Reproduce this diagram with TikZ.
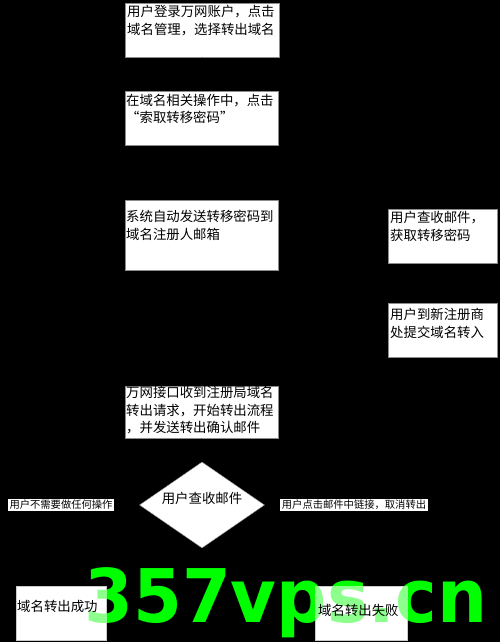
\documentclass[tikz,border=0pt]{standalone}
\usepackage{fontspec}
\usetikzlibrary{shapes.geometric,arrows.meta}
\newfontfamily\cjk{Noto Sans CJK SC}
\newfontfamily\wmfont{DejaVu Sans Bold}
\definecolor{wm}{RGB}{0,255,0}
\tikzset{
  x=1pt,y=-1pt,
  box/.style={draw=black!45,line width=0.5pt,fill=white,anchor=north west,inner sep=0pt},
  txt/.style={anchor=north west,inner sep=0pt,align=left,font=\cjk\fontsize{13.4}{17.5}\selectfont,text=black},
  lab/.style={fill=white,inner sep=1.5pt,font=\cjk\fontsize{10.3}{12}\selectfont,text=black},
  flow/.style={draw=black,line width=0.6pt,-{Stealth[length=5pt]}},
}
\begin{document}
\begin{tikzpicture}
\useasboundingbox (0,0) rectangle (500,642);
\fill[black] (0,0) rectangle (500,642);
% boxes
\node[box,minimum width=154pt,minimum height=54pt] (b1) at (125,3) {};
\node[box,minimum width=153pt,minimum height=54pt] (b2) at (125,91) {};
\node[box,minimum width=153pt,minimum height=70pt] (b3) at (125,200) {};
\node[box,minimum width=109pt,minimum height=54pt] (b4) at (388,209) {};
\node[box,minimum width=109pt,minimum height=54pt] (b5) at (388,303) {};
\node[box,minimum width=153pt,minimum height=52pt] (b6) at (125,386) {};
\node[diamond,draw=black!45,fill=white,minimum width=125pt,minimum height=86pt,inner sep=0pt] (d) at (202,505) {};
\node[box,minimum width=90pt,minimum height=54pt] (ok) at (16,586) {};
\node[box,minimum width=92pt,minimum height=54pt] (ko) at (315,586) {};
% connectors (black on black)
\draw[flow] (b1) -- (b2);
\draw[flow] (b2) -- (b3);
\draw[flow] (b3.east |- b4.west) -- (b4.west);
\draw[flow] (b4) -- (b5);
\draw[flow] (b5.south) |- (b6.east);
\draw[flow] (b6) -- (d);
\draw[flow] (d.west) -| (ok.north);
\draw[flow] (d.east) -| (ko.north);
% watermark
\node[anchor=base west,inner sep=0pt,text=wm,font=\wmfont\fontsize{74}{74}\selectfont] (wmk) at (84,622) {\scalebox{0.95}[1]{357vps.cn}};
% pale the mark where it lies over the bottom boxes
\fill[white,opacity=0.55] (ok.north west) rectangle (ok.south east);
\fill[white,opacity=0.55] (ko.north west) rectangle (ko.south east);
\node[lab] (l1) at (61,505) {用户不需要做任何操作};
\node[lab] (l2) at (354,505) {用户点击邮件中链接，取消转出};
% texts
\node[txt] (t1) at (127,5) {用户登录万网账户，点击\\域名管理，选择转出域名};
\node[txt] (t2) at (126,94) {在域名相关操作中，点击\\“索取转移密码”};
\node[txt] (t3) at (126,210) {系统自动发送转移密码到\\域名注册人邮箱};
\node[txt] (t4) at (390,211) {用户查收邮件，\\获取转移密码};
\node[txt] (t5) at (390,308) {用户到新注册商\\处提交域名转入};
\node[txt] (t6) at (126,386) {万网接口收到注册局域名\\转出请求，开始转出流程\\，并发送转出确认邮件};
\node[txt,anchor=center] (td) at (202,498) {用户查收邮件};
\node[txt,anchor=west] (tok) at (17,606) {域名转出成功};
\node[txt,anchor=west] (tko) at (318,610) {域名转出失败};
\end{tikzpicture}
\end{document}
